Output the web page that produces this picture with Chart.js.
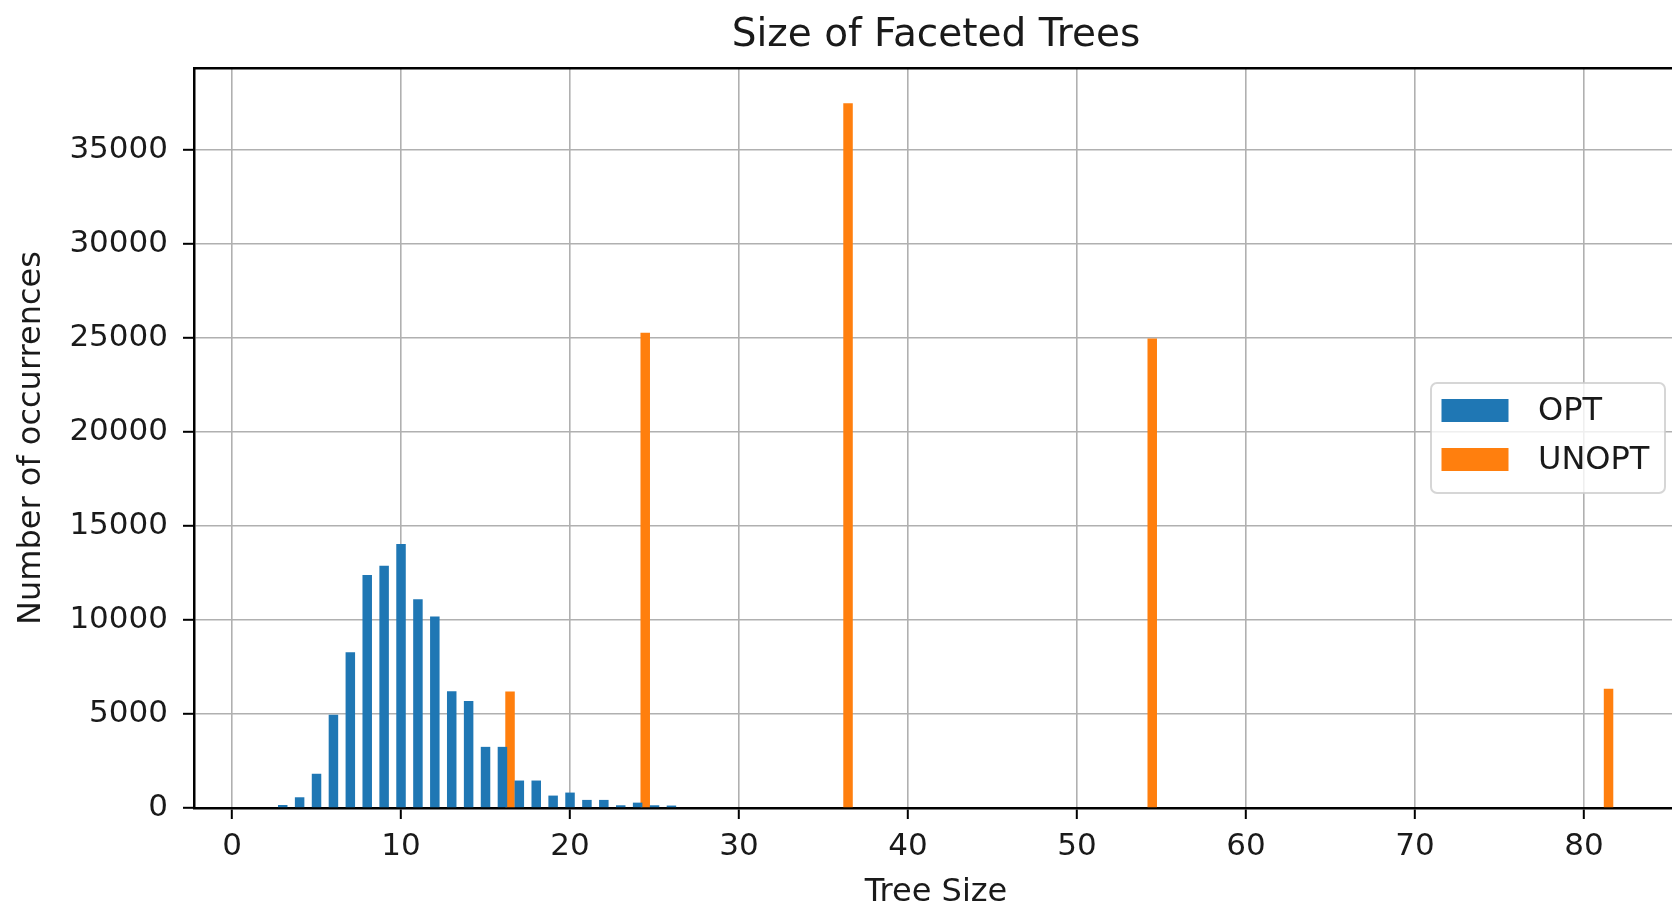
<!DOCTYPE html>
<html>
<head>
<meta charset="utf-8">
<title>Size of Faceted Trees</title>
<script src="https://cdn.jsdelivr.net/npm/chart.js@4.4.1/dist/chart.umd.min.js"></script>
<style>
  html, body { margin: 0; padding: 0; background: #fff; overflow: hidden; }
  canvas { display: block; }
</style>
</head>
<body>
<canvas id="treeChart" width="1680" height="908"></canvas>
<script>
// OPT trees: one bar per tree size
const optSizes = [3, 4, 5, 6, 7, 8, 9, 10, 11, 12, 13, 14, 15, 16, 17, 18, 19, 20, 21, 22, 23, 24, 25, 26];
const optCounts = [160, 570, 1820, 4950, 8280, 12380, 12880, 14030, 11090, 10180, 6200, 5690,
	3250, 3250, 1460, 1460, 660, 820, 430, 430, 145, 285, 145, 130];

// UNOPT trees only come in a few sizes
const unoptSizes = [16, 24, 36, 54, 81];
const unoptCounts = [6190, 25260, 37460, 24960, 6340];

const xTicks = [0, 10, 20, 30, 40, 50, 60, 70, 80];
const yTicks = [0, 5000, 10000, 15000, 20000, 25000, 30000, 35000];

// second series sits just right of the first one (like hist side by side)
const UNOPT_SHIFT = 0.45;

const FONT = 'DejaVu Sans';
const TEXT = '#1a1a1a';
const GRID = '#b0b0b0';

const X_MIN = -2.25, X_MAX = 85.56;
const Y_MAX = 39333;

// matplotlib style legend box, center right inside the axes
const boxLegend = {
	id: 'boxLegend',
	afterDraw(chart) {
		const ctx = chart.ctx;
		const area = chart.chartArea;
		const w = 234, h = 110;
		const bx = area.right - 13 - w;
		const by = (area.top + area.bottom) / 2 - h / 2;
		ctx.save();
		ctx.beginPath();
		ctx.roundRect(bx, by, w, h, 6);
		ctx.fillStyle = 'rgba(255,255,255,0.8)';
		ctx.fill();
		ctx.lineWidth = 2;
		ctx.strokeStyle = 'rgba(204,204,204,0.8)';
		ctx.stroke();
		ctx.font = '32px "' + FONT + '"';
		ctx.textBaseline = 'middle';
		ctx.textAlign = 'left';
		chart.data.datasets.forEach((ds, i) => {
			let cy = by + 27.5 + i * 49;
			ctx.fillStyle = ds.backgroundColor;
			ctx.fillRect(bx + 10.5, cy - 11.5, 67, 23);
			ctx.fillStyle = TEXT;
			ctx.fillText(ds.label, bx + 107, cy + 1);
		});
		ctx.restore();
	}
};

const ctx = document.getElementById('treeChart').getContext('2d');
const treeChart = new Chart(ctx, {
	type: 'bar',
	data: {
		datasets: [{
			label: 'OPT',
			data: optSizes.map((s, i) => ({ x: s, y: optCounts[i] })),
			backgroundColor: '#1f77b4'
		}, {
			label: 'UNOPT',
			data: unoptSizes.map((s, i) => ({ x: s + UNOPT_SHIFT, y: unoptCounts[i] })),
			backgroundColor: '#ff7f0e'
		}]
	},
	options: {
		responsive: false,
		animation: false,
		layout: { padding: { left: 0, right: 2, top: 0, bottom: 0 } },
		datasets: {
			bar: {
				grouped: false,
				categoryPercentage: 1,
				barPercentage: 2,
				maxBarThickness: 9.5,
				borderWidth: 0
			}
		},
		plugins: {
			legend: { display: false },
			tooltip: { enabled: false },
			title: { display: false }
		},
		scales: {
			x: {
				type: 'linear',
				position: 'bottom',
				min: X_MIN,
				max: X_MAX,
				offset: false,
				z: 1,
				afterBuildTicks: (scale) => { scale.ticks = xTicks.map((v) => ({ value: v })); },
				afterFit: (scale) => { scale.height = 100; },
				ticks: {
					color: TEXT,
					font: { family: FONT, size: 31 },
					padding: 9,
					maxRotation: 0,
					autoSkip: false,
					callback: (v) => String(v)
				},
				grid: {
					offset: false,
					color: GRID,
					lineWidth: 1.6,
					drawTicks: true,
					tickLength: 11,
					tickColor: '#000',
					tickWidth: 2
				},
				border: { display: true, color: '#000', width: 2.5 },
				title: {
					display: true,
					text: 'Tree Size',
					color: TEXT,
					font: { family: FONT, size: 32 },
					padding: { top: 0, bottom: -4 }
				}
			},
			x2: {
				type: 'linear',
				axis: 'x',
				position: 'top',
				min: X_MIN,
				max: X_MAX,
				offset: false,
				z: 1,
				afterFit: (scale) => { scale.height = 68; },
				ticks: { display: false },
				grid: { display: false, drawTicks: false, offset: false },
				border: { display: true, color: '#000', width: 2.5 },
				title: {
					display: true,
					text: 'Size of Faceted Trees',
					color: TEXT,
					font: { family: FONT, size: 39 },
					padding: { top: 12, bottom: 0 }
				}
			},
			y: {
				type: 'linear',
				position: 'left',
				min: 0,
				max: Y_MAX,
				z: 1,
				afterBuildTicks: (scale) => { scale.ticks = yTicks.map((v) => ({ value: v })); },
				afterFit: (scale) => { scale.width = 194; },
				ticks: {
					color: TEXT,
					font: { family: FONT, size: 31 },
					padding: 15,
					callback: (v) => String(v)
				},
				grid: {
					color: GRID,
					lineWidth: 1.6,
					drawTicks: true,
					tickLength: 11,
					tickColor: '#000',
					tickWidth: 2
				},
				border: { display: true, color: '#000', width: 2.5 },
				title: {
					display: true,
					text: 'Number of occurrences',
					color: TEXT,
					font: { family: FONT, size: 32 },
					padding: { top: 12, bottom: 0 }
				}
			}
		}
	},
	plugins: [boxLegend]
});
</script>
</body>
</html>
